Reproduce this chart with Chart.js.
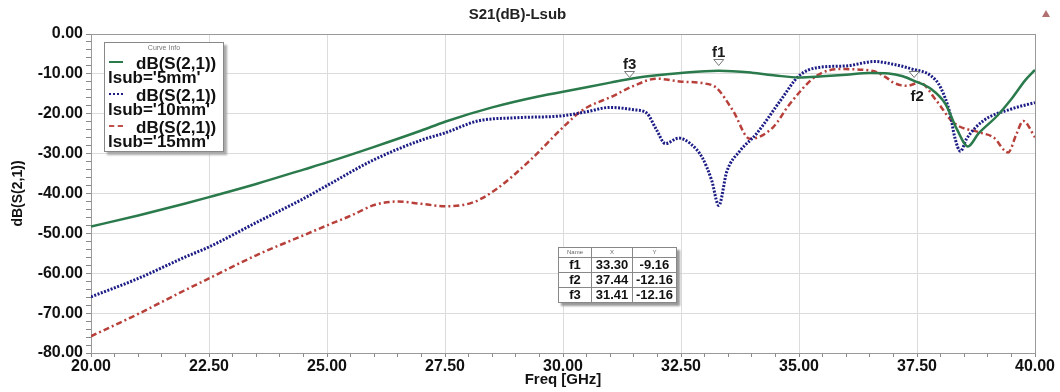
<!DOCTYPE html>
<html>
<head>
<meta charset="utf-8">
<script src="https://cdn.jsdelivr.net/npm/chart.js@4.4.1/dist/chart.umd.min.js"></script>
<style>
  body { margin: 0; background: #fff; font-family: "Liberation Sans", Arial, sans-serif; }
  #wrap { position: relative; width: 1060px; height: 392px; overflow: hidden; }
  #legend { position: absolute; left: 104px; top: 42px; width: 118px; height: 108px; border: 1px solid #888; background: #fff; box-shadow: 3px 3px 2px #aaa; }
  #legend .cap { position: absolute; left: 0; top: 1px; width: 100%; text-align: center; font-size: 7px; color: #777; }
  #legend .row { position: absolute; left: 3px; font-weight: bold; font-size: 17px; line-height: 14px; color: #111; white-space: nowrap; }
  #legend .sample { position: absolute; left: 4px; width: 14px; height: 0; }
  #markers { position: absolute; left: 558px; top: 247px; border-collapse: collapse; background: #fff; box-shadow: 3px 3px 2px #999; }
  #markers td { border: 1px solid #888; font-weight: bold; font-size: 13px; line-height: 12px; padding: 1px 3px; text-align: center; color: #111; }
  #markers tr.head td { font-size: 6px; font-weight: normal; color: #666; line-height: 7px; }
  #corner { position: absolute; left: 1042px; top: 10px; width: 0; height: 0; border-left: 4px solid transparent; border-right: 4px solid transparent; border-bottom: 7px solid #b07070; }
</style>
</head>
<body>
<div id="wrap">
  <canvas id="myChart" width="1060" height="392"></canvas>
  <div id="legend"></div>
  <table id="markers"></table>
  <div id="corner"></div>
</div>
<script>
// curve data (GHz, dB)
const freq5 = [20, 21, 22, 22.5, 23.5, 24.5, 25, 26, 27, 27.5, 28.5, 29.5, 30, 31, 31.5, 32.5, 33.3, 34, 34.5, 35, 35.5, 36, 36.5, 36.9, 37.2, 37.45, 37.8, 38.1, 38.35, 38.58, 38.8, 39.2, 39.5, 39.8, 40];
const s21_5 = [-48.3, -45.5, -42.5, -40.9, -37.6, -34.0, -32.2, -28.3, -24.2, -22.0, -18.4, -15.6, -14.5, -12.2, -11.1, -9.8, -9.2, -9.7, -10.4, -10.9, -10.6, -10.2, -9.8, -9.9, -10.6, -11.8, -13.8, -17.5, -24.0, -28.2, -25.0, -20.5, -16.3, -11.5, -9.0];

const freq10 = [20, 21, 22, 22.5, 23.5, 24.5, 25, 26, 27, 27.5, 28.2, 29, 30, 30.5, 31, 31.5, 31.77, 31.98, 32.17, 32.45, 32.7, 32.95, 33.15, 33.3, 33.47, 33.75, 34.1, 34.6, 35, 35.4, 36, 36.6, 37, 37.4, 37.8, 38.0, 38.2, 38.3, 38.42, 38.55, 38.9, 39.5, 40];
const s21_10 = [-65.9, -61.3, -55.9, -53.4, -47.3, -41.3, -38.0, -31.5, -26.6, -24.8, -21.8, -21.0, -20.5, -19.5, -18.4, -19.0, -19.8, -24.0, -27.5, -26.1, -27.5, -31.0, -36.7, -43.0, -34.5, -29.3, -25.0, -16.8, -10.5, -8.4, -8.0, -6.9, -7.6, -8.8, -10.5, -13.4, -20.0, -25.9, -29.4, -26.3, -21.8, -18.8, -17.2];

const freq15 = [20, 21, 22, 22.5, 23.5, 24.5, 25, 25.5, 26, 26.5, 27, 27.5, 28.1, 28.6, 29.3, 30, 30.4, 31.07, 31.5, 31.98, 32.47, 33.0, 33.24, 33.6, 33.96, 34.45, 34.8, 35.37, 35.86, 36.57, 36.86, 37.0, 37.28, 37.56, 37.91, 38.27, 38.83, 39.12, 39.43, 39.61, 39.75, 40];
const s21_15 = [-75.8, -70.2, -64.2, -61.3, -55.5, -50.5, -48.0, -45.6, -42.9, -42.0, -42.6, -43.2, -42.2, -38.8, -31.7, -23.4, -19.2, -15.5, -13.0, -11.2, -11.9, -12.4, -13.4, -19.2, -26.3, -23.4, -17.6, -10.5, -8.8, -9.3, -11.0, -12.2, -13.0, -12.2, -16.7, -22.2, -24.7, -25.9, -29.7, -25.0, -21.8, -25.9];

const seriesNames = ["lsub='5mm'", "lsub='10mm'", "lsub='15mm'"];
const curveName = 'dB(S(2,1))';

// marker table
const markerNames = ['f1', 'f2', 'f3'];
const markerX = [33.30, 37.44, 31.41];
const markerY = [-9.16, -12.16, -12.16];

const FONT = '"Liberation Sans", Arial, sans-serif';

function toPoints(xs, ys) {
    var pts = [];
    for (var i = 0; i < xs.length; i++) pts.push({x: xs[i], y: ys[i]});
    return pts;
}

function isMult(v, step) {
    return Math.abs(v / step - Math.round(v / step)) < 1e-6;
}

// legend box
var legendBox = document.getElementById('legend');
var samples = [
    'border-top: 2px solid #2a7a4c;',
    'border-top: 2px dotted #1c1c86;',
    'border-top: 2px dashed #c0504a;'
];
var legendHtml = '<div class="cap">Curve Info</div>';
for (var i = 0; i < seriesNames.length; i++) {
    var rowTop = 14 + i * 32;
    legendHtml +=
        '<div class="sample" style="top:' + (rowTop + 4) + 'px;' + samples[i] + '"></div>' +
        '<div class="row" style="left:31px;top:' + rowTop + 'px">' + curveName + '</div>' +
        '<div class="row" style="top:' + (rowTop + 14) + 'px">' + seriesNames[i] + '</div>';
}
legendBox.innerHTML = legendHtml;

// marker table
var tbl = document.getElementById('markers');
var html = '<tr class="head"><td>Name</td><td>X</td><td>Y</td></tr>';
for (var i = 0; i < markerNames.length; i++) {
    html += '<tr><td style="width:26px">' + markerNames[i] + '</td><td style="width:34px">' + markerX[i].toFixed(2) +
        '</td><td style="width:36px">' + markerY[i].toFixed(2) + '</td></tr>';
}
tbl.innerHTML = html;

// plot frame + marker triangles
const extras = {
    id: 'extras',
    beforeDatasetsDraw(chart) {
        var a = chart.chartArea, ctx = chart.ctx;
        ctx.save();
        ctx.strokeStyle = '#999';
        ctx.lineWidth = 1;
        ctx.strokeRect(a.left + 0.5, a.top + 0.5, a.right - a.left, a.bottom - a.top);
        ctx.restore();
    },
    afterDatasetsDraw(chart) {
        var ctx = chart.ctx, xs = chart.scales.x, ys = chart.scales.y;
        ctx.save();
        for (var i = 0; i < markerNames.length; i++) {
            var px = xs.getPixelForValue(markerX[i]);
            var py = ys.getPixelForValue(markerY[i]);
            ctx.beginPath();
            ctx.moveTo(px - 5, py - 11);
            ctx.lineTo(px + 5, py - 11);
            ctx.lineTo(px, py - 5);
            ctx.closePath();
            ctx.fillStyle = '#fff';
            ctx.fill();
            ctx.strokeStyle = '#777';
            ctx.lineWidth = 1;
            ctx.stroke();
            ctx.fillStyle = '#1a1a1a';
            ctx.font = 'bold 15px ' + FONT;
            ctx.textAlign = 'center';
            ctx.textBaseline = 'middle';
            if (markerNames[i] == 'f2') ctx.fillText(markerNames[i], px + 3, py + 14);
            else ctx.fillText(markerNames[i], px, py - 18);
        }
        ctx.restore();
    }
};

var ctx = document.getElementById('myChart').getContext('2d');
var chart = new Chart(ctx, {
    type: 'line',
    data: {
        datasets: [{
            label: seriesNames[0],
            data: toPoints(freq5, s21_5),
            borderColor: '#2a7a4c',
            borderWidth: 2.5,
            pointRadius: 0,
            cubicInterpolationMode: 'monotone'
        }, {
            label: seriesNames[1],
            data: toPoints(freq10, s21_10),
            borderColor: '#1c1c86',
            borderWidth: 3,
            borderDash: [2, 1.5],
            pointRadius: 0,
            cubicInterpolationMode: 'monotone'
        }, {
            label: seriesNames[2],
            data: toPoints(freq15, s21_15),
            borderColor: '#b8403a',
            borderWidth: 2.5,
            borderDash: [6, 3, 2, 3],
            pointRadius: 0,
            cubicInterpolationMode: 'monotone'
        }]
    },
    options: {
        responsive: false,
        animation: false,
        layout: { padding: { left: 0, right: 25, top: 0, bottom: 0 } },
        plugins: {
            legend: { display: false },
            tooltip: { enabled: false },
            title: {
                display: true,
                text: 'S21(dB)-Lsub',
                color: '#222',
                font: { family: FONT, size: 15, weight: 'bold' },
                padding: { top: 6, bottom: 10 }
            }
        },
        scales: {
            x: {
                type: 'linear',
                min: 20,
                max: 40,
                afterFit: function(s) { s.height = 39; },
                ticks: {
                    stepSize: 0.5,
                    autoSkip: false,
                    maxRotation: 0,
                    padding: 0,
                    color: '#111',
                    font: { family: FONT, size: 16, weight: 'bold' },
                    callback: function(v) { return isMult(v, 2.5) ? v.toFixed(2) : ''; }
                },
                grid: {
                    color: function(c) { return c.tick && isMult(c.tick.value, 2.5) ? '#dcdcdc' : 'rgba(0,0,0,0)'; },
                    tickColor: '#888',
                    tickLength: 4
                },
                border: { color: '#888' },
                title: {
                    display: true,
                    text: 'Freq [GHz]',
                    color: '#111',
                    font: { family: FONT, size: 15, weight: 'bold' },
                    padding: { top: 0, bottom: 3 }
                }
            },
            y: {
                min: -80,
                max: 0,
                afterFit: function(s) { s.width = 91; },
                ticks: {
                    stepSize: 2,
                    autoSkip: false,
                    padding: 3,
                    color: '#111',
                    font: { family: FONT, size: 16, weight: 'bold' },
                    callback: function(v) { return isMult(v, 10) ? v.toFixed(2) : ''; }
                },
                grid: {
                    color: function(c) { return c.tick && isMult(c.tick.value, 10) ? '#dcdcdc' : 'rgba(0,0,0,0)'; },
                    tickColor: '#888',
                    tickLength: 5
                },
                border: { color: '#888' },
                title: {
                    display: true,
                    text: 'dB(S(2,1))',
                    color: '#111',
                    font: { family: FONT, size: 14, weight: 'bold' },
                    padding: { top: 10, bottom: 0 }
                }
            }
        }
    },
    plugins: [extras]
});
</script>
</body>
</html>
